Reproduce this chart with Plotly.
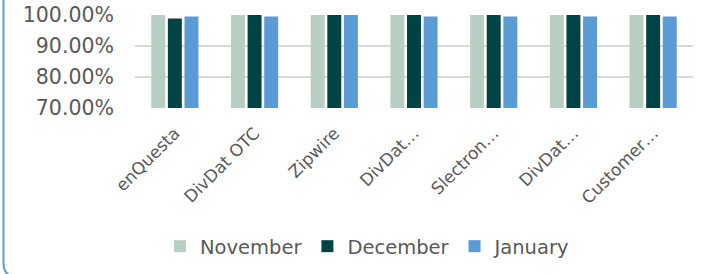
import plotly.graph_objects as go

categories = ["enQuesta", "DivDat OTC", "Zipwire", "DivDat…", "Slectron…", "DivDat…", "Customer…"]
november = [1.000, 1.000, 1.000, 1.000, 1.000, 1.000, 1.000]
december = [0.989, 1.000, 1.000, 1.000, 1.000, 1.000, 1.000]
january = [0.995, 0.995, 1.000, 0.995, 0.995, 0.995, 0.995]

series = [
    ("November", november, "#B7CEC2"),
    ("December", december, "#004345"),
    ("January", january, "#5B9BD5"),
]

W, H = 702, 274
ML, MR, MT, MB = 135, 9, 15, 166
PW = W - ML - MR
PH = H - MT - MB

positions = list(range(len(categories)))

fig = go.Figure()
for name, vals, color in series:
    fig.add_trace(go.Bar(
        x=positions, y=vals, name=name,
        marker=dict(color=color, line=dict(width=0)),
    ))

def px_x(p):
    return (p - ML) / PW

def px_y(p):
    return (H - MB - p) / PH

# rounded border of the chart frame: left edge and bottom-left corner (bottom edge off-canvas)
l, t, b, rad = 3.5, -20, 277, 14
border = dict(color="#5B9BD5", width=2)
fig.add_shape(type="path", xref="paper", yref="paper",
              path=(f"M {px_x(l)},{px_y(t)} L {px_x(l)},{px_y(b - rad)} "
                    f"Q {px_x(l)},{px_y(b)} {px_x(l + rad)},{px_y(b)} L {px_x(200)},{px_y(b)}"),
              line=border, layer="below")

font_family = "DejaVu Sans"
fig.update_layout(
    width=W, height=H,
    margin=dict(l=ML, r=MR, t=MT, b=MB, pad=0, autoexpand=False),
    paper_bgcolor="white", plot_bgcolor="white",
    barmode="group", bargap=0.375, bargroupgap=0.16,
    font=dict(family=font_family, color="#595959"),
    showlegend=True,
    legend=dict(orientation="h", x=px_x(160), xanchor="left", y=px_y(266), yanchor="bottom",
                font=dict(size=19.5, color="#595959"), traceorder="normal",
                itemwidth=30, itemclick=False),
    xaxis=dict(
        tickmode="array", tickvals=positions, ticktext=categories,
        range=[-0.5, len(categories) - 0.5], automargin=False,
        tickangle=-45, tickfont=dict(size=17, color="#595959"),
        showgrid=False, showline=False, zeroline=False, ticks="",
        ticklabelstandoff=11,
    ),
    yaxis=dict(
        range=[0.7, 1.0], dtick=0.1, tick0=0.7, tickformat=".2%",
        tickfont=dict(size=20.5, color="#595959"), automargin=False,
        showgrid=True, gridcolor="#D9D9D9", gridwidth=1.5,
        zeroline=False, showline=False, ticks="",
        ticklabelstandoff=20,
    ),
)

fig.write_html(
    "out.html",
    config={"displayModeBar": False},
    post_script="document.body.style.margin='0';document.body.style.overflow='hidden';",
)
